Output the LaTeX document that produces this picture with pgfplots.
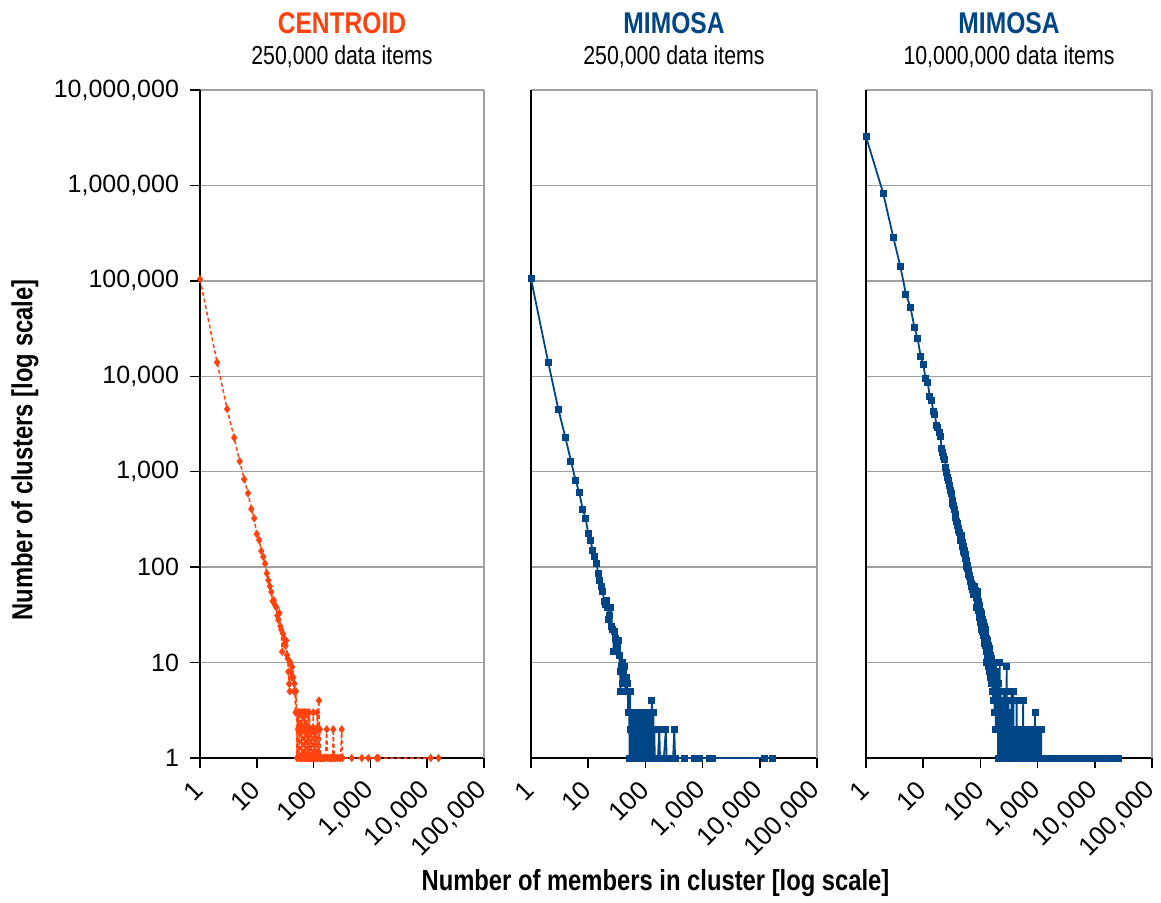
\documentclass[border=0pt]{standalone}
\usepackage{fontspec}
\setmainfont{Liberation Sans}
\IfFontExistsTF{Liberation Sans Narrow}{\newfontfamily\narrow{Liberation Sans Narrow}}{\newfontfamily\narrow{Liberation Sans}[FakeStretch=0.82]}
\usepackage{pgfplots}
\usepackage{pgfplotstable}
\pgfplotsset{compat=1.18}
\definecolor{corange}{HTML}{FF420E}
\definecolor{cblue}{HTML}{004586}
\definecolor{gridgray}{HTML}{A0A0A0}
\newcommand\tickfont{\fontsize{12.5}{14}\selectfont}
\newcommand\xtickfont{\fontsize{13}{15}\selectfont}

\pgfplotstableread{
x y
1 104000
2 14000
3 4540
4 2270
5 1285
6 832
7 594
8 407
9 325
10 222
11 192
12 148
13 128
14 109
15 86
16 73
17 63
18 55
19 44
20 45
21 40
22 38
23 31
24 28
25 33
26 24
27 22
28 13
29 20
30 18
31 16
32 15
33 17
34 12
35 11
36 8
37 6
38 5
39 10
40 8
41 7
42 9
43 7
44 7
45 5
46 6
47 5
48 3
49 5
50 3
51 1
52 3
53 2
54 3
55 1
56 2
57 3
58 1
59 2
60 3
61 1
62 2
63 3
64 1
65 2
66 3
67 2
68 1
69 3
70 2
71 1
72 2
73 3
74 1
75 2
76 3
77 1
78 2
79 2
80 1
81 3
83 1
84 3
86 2
87 1
89 2
91 1
93 2
95 1
97 2
99 3
100 1
102 2
104 1
106 2
108 1
111 2
114 1
116 3
118 1
121 2
124 4
126 1
129 2
132 1
136 1
141 1
147 1
153 1
161 1
170 2
177 1
186 1
196 1
206 1
216 1
222 2
231 1
246 1
262 1
282 1
300 1
312 2
322 1
470 1
705 1
920 1
1290 1
1380 1
11500 1
15800 1
}\centroid

\pgfplotstableread{
x y
1 105000
2 14000
3 4540
4 2270
5 1290
6 815
7 600
8 405
9 325
10 226
11 190
12 148
13 128
14 109
15 86
16 73
17 63
18 55
19 44
20 41
21 45
22 38
23 28
24 31
25 38
26 24
27 22
28 13
29 21
30 18
31 16
32 15
33 14
34 17
35 12
36 8
37 5
38 9
39 6
40 10
41 7
42 8
43 9
44 6
45 5
46 7
47 5
48 6
49 5
50 3
51 5
52 3
53 1
54 5
55 2
56 3
57 1
58 3
59 2
60 1
61 3
62 2
63 1
64 3
65 1
66 2
67 3
68 1
69 2
70 3
71 1
72 2
73 1
74 3
75 1
76 2
77 3
78 1
80 2
81 1
82 3
84 1
85 2
87 3
88 1
90 2
92 1
94 3
96 1
98 2
100 1
102 3
104 1
106 2
108 1
110 3
113 1
116 2
119 3
122 1
125 3
127 1
130 4
132 1
135 3
138 3
140 1
143 2
146 1
150 1
155 1
160 1
166 1
175 2
180 1
190 1
200 1
210 1
228 2
235 1
250 1
270 1
290 1
305 1
320 2
330 1
473 1
710 1
900 1
1310 1
1500 1
12000 1
16800 1
}\mimosaA

\pgfplotstableread{
x y
1 3240000
2 827000
3 286000
4 140000
5 72000
6 52800
7 32800
8 24800
9 16200
10 13400
11 9440
12 8650
13 6100
14 5550
15 4300
16 4000
17 3085
18 2900
19 2560
20 2320
21 1760
22 1600
23 1450
24 1327
25 1100
26 977
27 868
28 800
29 725
30 640
31 594
32 505
33 470
34 440
35 400
36 352
37 330
38 300
39 290
40 276
41 255
42 245
43 230
44 210
45 192
46 200
47 217
48 180
49 165
50 145
51 164
52 150
53 140
54 135
55 124
56 118
57 110
58 101
59 105
60 96
61 92
62 88
63 84
64 79
65 82
66 74
67 70
68 72
69 66
70 67
71 63
72 60
73 64
74 58
75 55
76 52
77 56
78 60
79 54
80 62
81 57
82 53
83 55
84 50
85 48
86 50
87 38
88 55
89 41
90 47
91 35
92 44
93 37
94 42
95 30
96 40
97 33
98 36
99 28
100 34
101 30
102 26
103 33
104 25
105 30
106 22
107 28
108 24
109 27
110 21
111 25
112 19
113 26
114 20
115 23
116 17
117 24
118 18
119 21
120 16
121 22
122 15
123 19
124 17
125 20
126 13
127 18
128 10
129 17
130 14
131 16
132 11
133 15
134 13
135 17
136 10
137 14
138 12
139 15
140 9
141 13
142 11
143 14
144 8
145 12
146 10
147 13
148 7
149 11
150 9
151 12
152 8
153 10
154 6
155 11
156 9
157 7
158 10
159 6
160 9
161 8
162 5
163 10
164 7
165 6
166 9
167 4
168 8
169 6
170 7
171 5
172 9
173 4
174 6
175 8
176 3
177 7
178 5
179 6
180 4
181 7
182 3
183 6
184 5
185 8
186 2
187 5
188 4
189 6
190 3
191 5
192 2
193 7
194 4
195 3
196 5
197 2
198 6
199 3
200 4
201 2
202 5
203 1
204 4
205 3
206 2
207 6
208 3
209 1
210 4
211 2
212 5
213 3
214 1
215 4
216 2
217 3
218 10
219 2
220 3
221 1
222 4
223 2
224 3
225 1
226 2
227 5
228 1
229 3
230 2
232 1
233 4
234 2
235 3
236 1
238 2
239 3
240 1
242 2
243 4
244 1
246 3
247 2
248 1
250 2
252 3
253 1
255 5
257 1
258 3
260 2
262 1
264 2
266 4
267 1
269 2
271 1
273 3
275 1
277 5
279 1
281 2
283 1
285 2
288 9
289 1
291 2
294 1
297 3
299 1
302 2
305 1
308 4
311 1
314 2
318 3
320 1
323 2
327 1
330 2
334 1
338 2
342 1
346 2
350 5
356 1
362 2
368 1
376 5
380 1
386 2
392 1
398 2
404 1
410 2
418 1
426 2
430 4
434 1
442 2
450 1
458 2
466 1
475 2
484 1
493 2
502 1
512 2
522 1
532 2
542 1
552 2
560 4
565 1
575 2
586 1
597 2
608 1
620 2
632 1
644 2
656 1
668 2
681 1
694 2
707 1
720 2
734 1
748 2
762 1
777 2
792 1
807 2
822 1
838 2
854 1
870 2
887 1
900 3
910 1
925 2
942 1
960 2
978 1
996 2
1015 1
1035 2
1055 1
1075 2
1096 1
1117 2
1138 1
1150 2
1160 1
1250 1
1350 1
1480 1
1600 1
1750 1
1900 1
2100 1
2300 1
2600 1
2900 1
3300 1
3700 1
4200 1
4800 1
5500 1
6300 1
7200 1
8200 1
9500 1
11000 1
13000 1
15500 1
18000 1
21000 1
25800 1
}\mimosaB

\begin{document}
\begin{tikzpicture}
\useasboundingbox (0,0) rectangle (580.5pt,-451.5pt);

\begin{axis}[name=axA, at={(100pt,-379pt)}, anchor=south west,
    scale only axis, width=142pt, height=334pt,
    xmode=log, ymode=log,
    xmin=1, xmax=100000, ymin=1, ymax=10000000,
    xtick={1,10,100,1000,10000,100000},
    xticklabels={1,10,100,{1,000},{10,000},{100,000}},
    ytick={1,10,100,1000,10000,100000,1000000,10000000},
    yticklabels={1,10,100,{1,000},{10,000},{100,000},{1,000,000},{10,000,000}},
    xminorticks=false, yminorticks=false,
    axis x line*=bottom, axis y line*=left,
    axis line style={black, line width=0.75pt},
    tick align=outside, major tick length=5pt,
    tick style={black, line width=0.75pt},
    ymajorgrids, grid style={gridgray, line width=0.7pt},
    xticklabel style={xshift=1.8pt, yshift=-6.5pt, rotate=45, anchor=east, font=\xtickfont},
    yticklabel style={font=\tickfont, xshift=-2pt},
    clip=false]
  \addplot[color=corange, line width=0.75pt, dash pattern=on 2pt off 1.3pt,
    mark=diamond*, mark size=1.5pt, mark options={solid, fill=corange}]
    table[x=x, y=y] {\centroid};
\end{axis}

\begin{axis}[name=axB, at={(265.5pt,-379pt)}, anchor=south west,
    scale only axis, width=143pt, height=334pt,
    xmode=log, ymode=log,
    xmin=1, xmax=100000, ymin=1, ymax=10000000,
    xtick={1,10,100,1000,10000,100000},
    xticklabels={1,10,100,{1,000},{10,000},{100,000}},
    ytick={1,10,100,1000,10000,100000,1000000,10000000},
    yticklabels={},
    xminorticks=false, yminorticks=false,
    axis x line*=bottom, axis y line*=left,
    axis line style={black, line width=0.75pt},
    tick align=outside, major tick length=5pt,
    xtick style={black, line width=0.75pt},
    ytick style={draw=none},
    ymajorgrids, grid style={gridgray, line width=0.7pt},
    xticklabel style={xshift=1.8pt, yshift=-6.5pt, rotate=45, anchor=east, font=\xtickfont},
    clip=false]
  \addplot[color=cblue, line width=0.9pt,
    mark=square*, mark size=1.3pt, mark options={solid, fill=cblue}]
    table[x=x, y=y] {\mimosaA};
\end{axis}

\begin{axis}[name=axC, at={(433pt,-379pt)}, anchor=south west,
    scale only axis, width=143pt, height=334pt,
    xmode=log, ymode=log,
    xmin=1, xmax=100000, ymin=1, ymax=10000000,
    xtick={1,10,100,1000,10000,100000},
    xticklabels={1,10,100,{1,000},{10,000},{100,000}},
    ytick={1,10,100,1000,10000,100000,1000000,10000000},
    yticklabels={},
    xminorticks=false, yminorticks=false,
    axis x line*=bottom, axis y line*=left,
    axis line style={black, line width=0.75pt},
    tick align=outside, major tick length=5pt,
    xtick style={black, line width=0.75pt},
    ytick style={draw=none},
    ymajorgrids, grid style={gridgray, line width=0.7pt},
    xticklabel style={xshift=1.8pt, yshift=-6.5pt, rotate=45, anchor=east, font=\xtickfont},
    clip=false]
  \addplot[color=cblue, line width=0.9pt,
    mark=square*, mark size=1.3pt, mark options={solid, fill=cblue}]
    table[x=x, y=y] {\mimosaB};
\end{axis}

\draw[gridgray, line width=0.7pt] (axA.south east) -- (axA.north east);
\draw[gridgray, line width=0.7pt] (axB.south east) -- (axB.north east);
\draw[gridgray, line width=0.7pt] (axC.south east) -- (axC.north east);

\node[anchor=base, text=corange, font={\narrow\bfseries\fontsize{15}{18}\selectfont}] at (171pt,-16.7pt) {CENTROID};
\node[anchor=base, font={\narrow\fontsize{13}{15}\selectfont}] at (171pt,-32.5pt) {250,000 data items};
\node[anchor=base, text=cblue, font={\narrow\bfseries\fontsize{15}{18}\selectfont}] at (337pt,-16.7pt) {MIMOSA};
\node[anchor=base, font={\narrow\fontsize{13}{15}\selectfont}] at (337pt,-32.5pt) {250,000 data items};
\node[anchor=base, text=cblue, font={\narrow\bfseries\fontsize{15}{18}\selectfont}] at (504.5pt,-16.7pt) {MIMOSA};
\node[anchor=base, font={\narrow\fontsize{13}{15}\selectfont}] at (504.5pt,-32.5pt) {10,000,000 data items};

\node[rotate=90, font={\narrow\bfseries\fontsize{14.5}{17}\selectfont}] at (12.5pt,-225pt) {Number of clusters [log scale]};
\node[anchor=base, font={\narrow\bfseries\fontsize{14.5}{17}\selectfont}] at (327.75pt,-445pt) {Number of members in cluster [log scale]};
\end{tikzpicture}
\end{document}
